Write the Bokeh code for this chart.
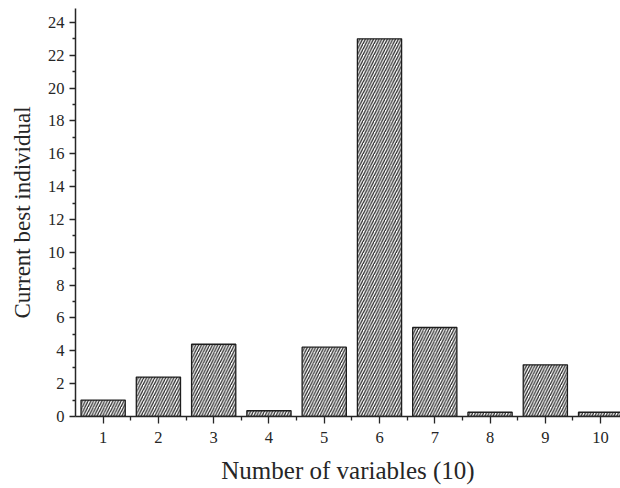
from bokeh.plotting import figure
from bokeh.models import FixedTicker, ColumnDataSource, Range1d
from bokeh.embed import file_html
from bokeh.resources import INLINE

# Number of variables and the current best individual for each
variables = [1, 2, 3, 4, 5, 6, 7, 8, 9, 10]
best_individual = [1.0, 2.4, 4.4, 0.35, 4.22, 23.0, 5.42, 0.26, 3.15, 0.26]

y_ticks = [0, 2, 4, 6, 8, 10, 12, 14, 16, 18, 20, 22, 24]
y_minor = [1, 3, 5, 7, 9, 11, 13, 15, 17, 19, 21, 23]
x_minor = [1.5, 2.5, 3.5, 4.5, 5.5, 6.5, 7.5, 8.5, 9.5, 10.5]

source = ColumnDataSource(dict(x=variables, top=best_individual))

p = figure(width=620, height=488, output_backend="svg", toolbar_location=None,
           x_range=Range1d(0.5, 10.36), y_range=Range1d(0, 24.85),
           min_border_left=75, min_border_right=0, min_border_top=8,
           min_border_bottom=72)

p.vbar(x="x", top="top", width=0.8, bottom=0, source=source,
       fill_color="white", line_color="#1e1e1e", line_width=1.3,
       hatch_pattern="right_diagonal_line", hatch_color="#2a2a2a",
       hatch_scale=5.5, hatch_weight=1.3)

p.grid.visible = False
p.outline_line_color = None
p.background_fill_color = "white"
p.border_fill_color = "white"

font = "Liberation Serif"
ink = "#262626"

for ax in (p.xaxis[0], p.yaxis[0]):
    ax.axis_line_color = ink
    ax.axis_line_width = 1.5
    ax.major_tick_line_color = ink
    ax.major_tick_line_width = 1.3
    ax.minor_tick_line_color = ink
    ax.minor_tick_line_width = 1.3
    ax.major_tick_in = 0
    ax.minor_tick_in = 0
    ax.major_label_text_font = font
    ax.major_label_text_font_size = "16.5px"
    ax.major_label_text_color = ink
    ax.axis_label_text_font = font
    ax.axis_label_text_font_style = "normal"
    ax.axis_label_text_color = ink

p.xaxis.axis_label_text_font_size = "25px"
p.yaxis.axis_label_text_font_size = "23px"

p.xaxis.ticker = FixedTicker(ticks=variables, minor_ticks=x_minor)
p.yaxis.ticker = FixedTicker(ticks=y_ticks, minor_ticks=y_minor)

p.xaxis.major_tick_out = 7
p.xaxis.minor_tick_out = 4
p.yaxis.major_tick_out = 6
p.yaxis.minor_tick_out = 3

p.xaxis.major_label_standoff = 8
p.yaxis.major_label_standoff = 5
p.xaxis.axis_label = "Number of variables (10)"
p.yaxis.axis_label = "Current best individual"
p.xaxis.axis_label_standoff = 11
p.yaxis.axis_label_standoff = 10

open("out.html", "w").write(file_html(p, INLINE))
